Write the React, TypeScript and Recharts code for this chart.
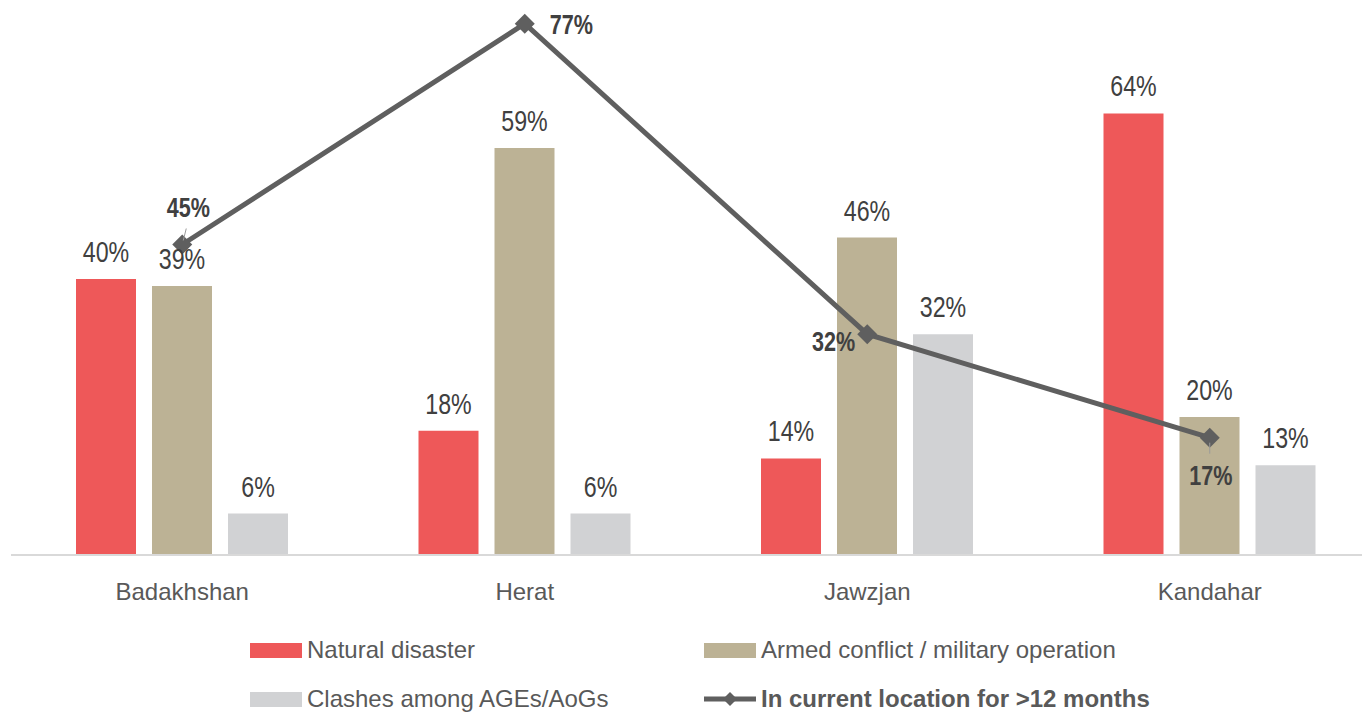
import React from 'react';
import { ComposedChart, Bar, Line, XAxis, YAxis, LabelList } from 'recharts';

const categories = ['Badakhshan', 'Herat', 'Jawzjan', 'Kandahar'];
const naturalDisaster = [40, 18, 14, 64];
const armedConflict = [39, 59, 46, 20];
const clashes = [6, 6, 32, 13];
const inLocation12m = [45, 77, 32, 17];
const seriesNames = [
  'Natural disaster',
  'Armed conflict / military operation',
  'Clashes among AGEs/AoGs',
  'In current location for >12 months',
];

const data = categories.map((c, i) => ({
  category: c,
  nd: naturalDisaster[i],
  ac: armedConflict[i],
  cl: clashes[i],
  loc: inLocation12m[i],
}));

const RED = '#EE5859';
const TAN = '#BCB295';
const GRAY = '#D1D2D4';
const LINE = '#5F5F5F';
const TEXT = '#404040';
const SANS = '"Liberation Sans", Arial, sans-serif';

const LABEL_PLACEMENT = ['top', 'right', 'left', 'bottom'];

const pct = (v: any) => `${v}%`;

const NarrowText = ({ x, y, anchor, bold, size, children }: any) => (
  <text
    x={0}
    y={0}
    transform={`translate(${x} ${y}) scale(0.8 1)`}
    textAnchor={anchor}
    style={{ fontFamily: SANS, fontSize: size, fontWeight: bold ? 700 : 400, fill: TEXT }}
  >
    {children}
  </text>
);

const Diamond = (props: any) => {
  const { cx, cy } = props;
  if (cx == null || cy == null) return null;
  const r = 10;
  return (
    <polygon
      points={`${cx},${cy - r} ${cx + r},${cy} ${cx},${cy + r} ${cx - r},${cy}`}
      fill={LINE}
    />
  );
};

const LineLabel = (props: any) => {
  const { x, y, value, index } = props;
  const place = LABEL_PLACEMENT[index];
  const t = pct(value);
  if (place === 'top') {
    return (
      <g>
        <line x1={x + 4} y1={y - 16} x2={x + 1} y2={y - 4} stroke="#9a9a9a" strokeWidth={1} />
        <NarrowText x={x + 6} y={y - 28} anchor="middle" bold size={27}>{t}</NarrowText>
      </g>
    );
  }
  if (place === 'right') {
    return <NarrowText x={x + 25} y={y + 10} anchor="start" bold size={27}>{t}</NarrowText>;
  }
  if (place === 'left') {
    return <NarrowText x={x - 12} y={y + 17} anchor="end" bold size={27}>{t}</NarrowText>;
  }
  return (
    <g>
      <line x1={x} y1={y + 5} x2={x} y2={y + 16} stroke="#9a9a9a" strokeWidth={1} />
      <NarrowText x={x + 1} y={y + 47} anchor="middle" bold size={27}>{t}</NarrowText>
    </g>
  );
};

const BarLabel = (props: any) => {
  const { x, y, width, value } = props;
  return (
    <NarrowText x={x + width / 2} y={y - 17} anchor="middle" size={29}>{pct(value)}</NarrowText>
  );
};

const CategoryTick = (props: any) => {
  const { x, y, payload } = props;
  return (
    <text x={x} y={y} dy={37} textAnchor="middle" style={{ fontFamily: SANS, fontSize: 24, fill: '#595959' }}>
      {payload.value}
    </text>
  );
};

const LegendItem = ({ left, top, kind, color, label, bold }: any) => (
  <div style={{ position: 'absolute', left, top, height: 30, display: 'flex', alignItems: 'center' }}>
    {kind === 'rect' ? (
      <div style={{ width: 52, height: 15, background: color, marginRight: 5 }} />
    ) : (
      <svg width={52} height={20} style={{ marginRight: 5 }}>
        <line x1={0} y1={10} x2={52} y2={10} stroke={LINE} strokeWidth={5} />
        <polygon points="26,3 33,10 26,17 19,10" fill={LINE} />
      </svg>
    )}
    <span
      style={{
        fontFamily: SANS,
        fontSize: 24,
        color: '#595959',
        fontWeight: bold ? 700 : 400,
        whiteSpace: 'nowrap',
        lineHeight: '30px',
      }}
    >
      {label}
    </span>
  </div>
);

export default function App() {
  return (
    <div style={{ position: 'absolute', left: 0, top: 0, width: 1362, height: 713, overflow: 'hidden', background: '#fff' }}>
      <ComposedChart
        width={1400}
        height={713}
        data={data}
        margin={{ top: 3, right: 19, bottom: 118, left: 11 }}
        barGap={16}
      >
        <XAxis
          dataKey="category"
          axisLine={{ stroke: '#D9D9D9', strokeWidth: 2 }}
          tickLine={false}
          tick={<CategoryTick />}
          height={40}
          interval={0}
        />
        <YAxis hide domain={[0, 80]} />
        <Bar dataKey="nd" name={seriesNames[0]} fill={RED} barSize={60} isAnimationActive={false}>
          <LabelList dataKey="nd" content={<BarLabel />} />
        </Bar>
        <Bar dataKey="ac" name={seriesNames[1]} fill={TAN} barSize={60} isAnimationActive={false}>
          <LabelList dataKey="ac" content={<BarLabel />} />
        </Bar>
        <Bar dataKey="cl" name={seriesNames[2]} fill={GRAY} barSize={60} isAnimationActive={false}>
          <LabelList dataKey="cl" content={<BarLabel />} />
        </Bar>
        <Line
          dataKey="loc"
          name={seriesNames[3]}
          stroke={LINE}
          strokeWidth={5}
          dot={<Diamond />}
          activeDot={false}
          isAnimationActive={false}
        >
          <LabelList dataKey="loc" content={<LineLabel />} />
        </Line>
      </ComposedChart>
      <LegendItem left={250} top={635} kind="rect" color={RED} label={seriesNames[0]} />
      <LegendItem left={704} top={635} kind="rect" color={TAN} label={seriesNames[1]} />
      <LegendItem left={250} top={684} kind="rect" color={GRAY} label={seriesNames[2]} />
      <LegendItem left={704} top={684} kind="line" color={LINE} label={seriesNames[3]} bold />
    </div>
  );
}
